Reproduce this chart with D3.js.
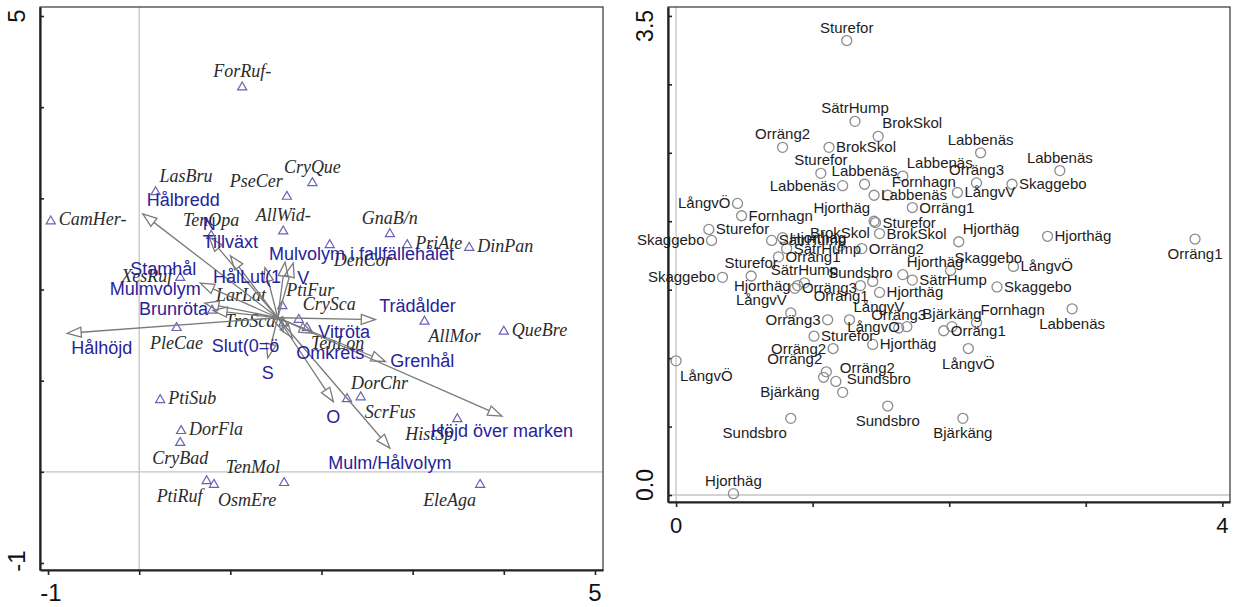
<!DOCTYPE html>
<html>
<head>
<meta charset="utf-8">
<script src="https://d3js.org/d3.v7.min.js"></script>
<style>
  body { margin: 0; background: #fff; }
  svg { display: block; }
</style>
</head>
<body>
<svg id="chart" width="1238" height="607"></svg>
<script>
'use strict';

/* Values */

// left panel - species scores (triangles)
var speciesNames = ['ForRuf-', 'LasBru', 'PseCer', 'CryQue', 'CamHer-', 'AllWid-', 'TenOpa', 'GnaB/n', 'PriAte', 'DinPan',
  'DenCor', 'PtiFur', 'XesRuf', 'LarLat', 'TroSca', 'CrySca', 'TenLon', 'PleCae', 'PtiSub', 'DorFla',
  'CryBad', 'PtiRuf', 'OsmEre', 'TenMol', 'EleAga', 'QueBre', 'AllMor', 'DorChr', 'ScrFus', 'HistSp'];
var speciesX = [1.13, 0.18, 1.62, 1.90, -0.97, 1.58, 0.79, 2.75, 2.94, 3.62,
  2.09, 1.57, 0.45, 0.80, 1.58, 1.75, 1.84, 0.41, 0.23, 0.46,
  0.45, 0.74, 0.82, 1.59, 3.74, 4.00, 3.13, 2.28, 2.43, 3.49];
var speciesY = [4.23, 3.08, 3.03, 3.18, 2.76, 2.65, 2.60, 2.62, 2.50, 2.47,
  2.50, 1.83, 2.14, 1.78, 1.64, 1.68, 1.59, 1.59, 0.80, 0.46,
  0.33, -0.09, -0.13, -0.11, -0.13, 1.55, 1.66, 0.81, 0.83, 0.59];
var speciesLabelPos = ['n', 'ne', 'nw', 'n', 'e', 'n', 'n', 'n', 'e', 'e',
  'se', 'ne', 'w', 'ne', 'w', 'ne', 'se', 's', 'e', 'e',
  's', 'sw', 'se', 'nw', 'sw', 'e', 'se', 'ne', 'se', 'sw'];

// left panel - environmental arrows
var arrowOrigin = [1.52, 1.69];
var envNames = ['Hålhöjd', 'Hålbredd', 'Stamhål', 'Mulmvolym', 'Brunröta', 'N', 'Tillväxt', 'HålLut(1', 'V',
  'Mulvolym i fallfällehålet', 'Slut(0=ö', 'S', 'Omkrets', 'O', 'Mulm/Hålvolym', 'Höjd över marken',
  'Grenhål', 'Vitröta', 'Trädålder'];
var envX = [-0.79, 0.04, 0.67, 0.72, 0.81, 0.77, 1.00, 1.60, 1.69, 1.38, 1.58, 1.41, 1.68, 2.13, 2.75, 3.98, 2.70, 1.91, 2.59];
var envY = [1.52, 2.83, 2.07, 1.85, 1.77, 2.57, 2.37, 2.30, 2.29, 2.24, 1.54, 1.25, 1.47, 0.77, 0.26, 0.61, 1.21, 1.52, 1.67];
var envLabelPos = ['se', 'ne', 'nw', 'nw', 'w', 'n', 'n', 'sw', 'se', 'ne', 'sw', 's', 'se', 's', 's', 's', 'e', 'e', 'ne'];

// right panel - site scores (circles)
var siteNames = ['Sturefor', 'SätrHump', 'BrokSkol', 'Orräng2', 'BrokSkol', 'Labbenäs', 'Sturefor', 'Labbenäs', 'Labbenäs', 'Labbenäs',
  'Labbenäs', 'Fornhagn', 'Labbenäs', 'Orräng3', 'Skaggebo', 'LångvV', 'Orräng1', 'LångvÖ', 'Fornhagn', 'Hjorthäg',
  'Sturefor', 'Hjorthäg', 'Skaggebo', 'BrokSkol', 'Hjorthäg', 'Orräng1', 'Sturefor', 'Skaggebo', 'BrokSkol', 'Orräng2',
  'SätrHump', 'Hjorthäg', 'SätrHump', 'Orräng1', 'Sturefor', 'SätrHump', 'Sundsbro', 'Hjorthäg', 'Orräng3', 'Orräng1',
  'Hjorthäg', 'LångvV', 'LångvV', 'Orräng3', 'LångvÖ', 'SätrHump', 'Hjorthäg', 'Skaggebo', 'LångvÖ', 'Fornhagn',
  'Bjärkäng', 'Orräng1', 'Orräng3', 'Labbenäs', 'Sturefor', 'Hjorthäg', 'LångvÖ', 'Orräng2', 'Orräng2', 'Orräng2',
  'Sundsbro', 'Bjärkäng', 'Sundsbro', 'Sundsbro', 'Bjärkäng', 'Hjorthäg', 'LångvÖ', 'Skaggebo'];
var siteX = [1.25, 1.31, 1.48, 0.78, 1.12, 2.23, 1.06, 1.38, 2.81, 1.22,
  1.66, 1.55, 1.45, 2.20, 2.46, 2.06, 1.73, 0.45, 0.48, 1.45,
  1.46, 2.07, 2.01, 1.49, 2.72, 3.80, 0.24, 0.26, 1.20, 1.36,
  0.70, 0.78, 0.81, 0.75, 0.55, 0.94, 1.35, 0.89, 0.87, 1.44,
  1.49, 0.84, 1.27, 1.11, 1.69, 1.73, 1.66, 2.35, 2.47, 2.20,
  2.02, 1.96, 1.63, 2.90, 1.01, 1.44, 2.14, 1.15, 1.17, 1.10,
  1.22, 1.08, 1.55, 0.84, 2.10, 0.42, 0.00, 0.34];
var siteY = [3.32, 2.73, 2.62, 2.54, 2.54, 2.50, 2.35, 2.27, 2.37, 2.26,
  2.33, 2.19, 2.19, 2.28, 2.27, 2.21, 2.10, 2.13, 2.04, 2.00,
  1.99, 1.85, 1.64, 1.91, 1.89, 1.87, 1.94, 1.86, 1.82, 1.80,
  1.86, 1.88, 1.80, 1.74, 1.60, 1.55, 1.53, 1.53, 1.51, 1.56,
  1.48, 1.33, 1.28, 1.28, 1.23, 1.57, 1.61, 1.52, 1.67, 1.26,
  1.23, 1.20, 1.22, 1.36, 1.16, 1.10, 1.07, 1.07, 0.83, 0.90,
  0.75, 0.86, 0.65, 0.56, 0.56, 0.01, 0.98, 1.59];
var siteLabelPos = ['n', 'n', 'ne', 'n', 'e', 'n', 'n', 'n', 'n', 'w',
  'ne', 'ne', 'e', 'n', 'e', 'e', 'e', 'w', 'e', 'nw',
  'e', 'ne', 'ne', 'e', 'e', 's', 'e', 'w', 'n', 'e',
  'e', 'e', 'e', 'e', 'n', 'n', 'n', 'w', 'e', 'sw',
  'e', 'nw', 'ne', 'w', 'w', 'e', 'ne', 'e', 'e', 'ne',
  'n', 'e', 'n', 's', 'e', 'e', 's', 'w', 'ne', 'nw',
  'ne', 'sw', 's', 'sw', 's', 'n', 'se', 'w'];

// axes
var leftTicks = [-1, 0, 1, 2, 3, 4, 5];
var leftTickLabels = [-1, 5];
var rightXTicks = [0, 1, 2, 3, 4];
var rightXTickLabels = [0, 4];
var rightYTicks = [0, 0.5, 1, 1.5, 2, 2.5, 3, 3.5];
var rightYTickLabels = [0, 3.5];

var SANS = '"Liberation Sans", Arial, sans-serif';
var SERIF = '"Liberation Serif", "Times New Roman", serif';

var svg = d3.select('#chart');

// label placement around a point: dx, baseline dy, anchor
function offsets(h, hb, sb) {
  return {
    n:  [0, hb, 'middle'], s: [0, sb, 'middle'],
    e:  [h, 5, 'start'],   w: [-h, 5, 'end'],
    ne: [4, hb, 'start'],  nw: [-4, hb, 'end'],
    se: [4, sb, 'start'],  sw: [-4, sb, 'end']
  };
}

function frame(g, x, y) {
  var x0 = x.range()[0], x1 = x.range()[1], y0 = y.range()[0], y1 = y.range()[1];
  // light reference lines through zero
  g.append('line').attr('x1', x(0)).attr('x2', x(0)).attr('y1', y1).attr('y2', y0)
    .attr('stroke', '#c4c4c4').attr('stroke-width', 1.3);
  g.append('line').attr('x1', x0).attr('x2', x1).attr('y1', y(0)).attr('y2', y(0))
    .attr('stroke', '#c4c4c4').attr('stroke-width', 1.3);
  g.append('rect').attr('x', x0).attr('y', y1).attr('width', x1 - x0).attr('height', y0 - y1)
    .attr('fill', 'none').attr('stroke', '#333').attr('stroke-width', 1.2);
}

function axes(g, x, y, xt, yt) {
  var ax = g.append('g').attr('transform', 'translate(0,' + y.range()[0] + ')')
    .call(d3.axisBottom(x).tickValues(xt).tickSize(5).tickSizeOuter(0).tickFormat(''));
  var ay = g.append('g').attr('transform', 'translate(' + x.range()[0] + ',0)')
    .call(d3.axisLeft(y).tickValues(yt).tickSize(-4).tickSizeOuter(0).tickFormat(''));
  [ax, ay].forEach(function(a) {
    a.select('.domain').attr('stroke', '#222').attr('stroke-width', 2.2);
    a.selectAll('.tick line').attr('stroke', '#222').attr('stroke-width', 1.6);
  });
}

/* ---------- left panel: species + environment biplot ---------- */

var xL = d3.scaleLinear().domain([-1.088, 5.088]).range([40, 603]);
var yL = d3.scaleLinear().domain([-1.077, 5.099]).range([570, 7]);
var gL = svg.append('g');

frame(gL, xL, yL);
axes(gL, xL, yL, leftTicks, leftTicks);

gL.selectAll('text.xlab').data(leftTickLabels).enter().append('text')
  .attr('x', function(d) { return xL(d) + (d < 0 ? 3 : 0); }).attr('y', 601)
  .attr('text-anchor', 'middle').attr('font-family', SANS).attr('font-size', 24).attr('fill', '#111')
  .text(function(d) { return d; });
gL.selectAll('text.ylab').data(leftTickLabels).enter().append('text')
  .attr('transform', function(d) { return 'translate(25,' + (yL(d) - (d < 0 ? 2 : 0)) + ') rotate(-90)'; })
  .attr('text-anchor', 'middle').attr('font-family', SANS).attr('font-size', 24).attr('fill', '#111')
  .text(function(d) { return d; });

var spOff = offsets(8, -9, 22);
var spIdx = d3.range(speciesNames.length);

gL.selectAll('path.sp').data(spIdx).enter().append('path')
  .attr('d', d3.symbol().type(d3.symbolTriangle).size(36))
  .attr('transform', function(i) { return 'translate(' + xL(speciesX[i]) + ',' + (yL(speciesY[i]) + 1) + ')'; })
  .attr('fill', 'none').attr('stroke', '#6a62b6').attr('stroke-width', 1.2);

gL.selectAll('text.sp').data(spIdx).enter().append('text')
  .attr('x', function(i) { return xL(speciesX[i]) + spOff[speciesLabelPos[i]][0]; })
  .attr('y', function(i) { return yL(speciesY[i]) + spOff[speciesLabelPos[i]][1]; })
  .attr('text-anchor', function(i) { return spOff[speciesLabelPos[i]][2]; })
  .attr('font-family', SERIF).attr('font-style', 'italic').attr('font-size', 18).attr('fill', '#2b2b2b')
  .text(function(i) { return speciesNames[i]; });

// arrows from the common origin, open heads
var ox = xL(arrowOrigin[0]), oy = yL(arrowOrigin[1]);
var headLen = 14, headHalf = 5;
var envIdx = d3.range(envNames.length);

envIdx.forEach(function(i) {
  var tx = xL(envX[i]), ty = yL(envY[i]);
  var dx = tx - ox, dy = ty - oy, len = Math.sqrt(dx * dx + dy * dy);
  var ux = dx / len, uy = dy / len;
  var bx = tx - ux * headLen, by = ty - uy * headLen;
  gL.append('line').attr('x1', ox).attr('y1', oy).attr('x2', bx).attr('y2', by)
    .attr('stroke', '#7a7a7a').attr('stroke-width', 1.3);
  gL.append('path')
    .attr('d', 'M' + tx + ',' + ty +
      'L' + (bx - uy * headHalf) + ',' + (by + ux * headHalf) +
      'L' + (bx + uy * headHalf) + ',' + (by - ux * headHalf) + 'Z')
    .attr('fill', 'none').attr('stroke', '#7a7a7a').attr('stroke-width', 1.3);
});

var envOff = offsets(5, -8, 21);

gL.selectAll('text.env').data(envIdx).enter().append('text')
  .attr('x', function(i) { return xL(envX[i]) + envOff[envLabelPos[i]][0]; })
  .attr('y', function(i) { return yL(envY[i]) + envOff[envLabelPos[i]][1]; })
  .attr('text-anchor', function(i) { return envOff[envLabelPos[i]][2]; })
  .attr('font-family', SANS).attr('font-size', 18).attr('fill', '#27239a')
  .text(function(i) { return envNames[i]; });

/* ---------- right panel: site scores ---------- */

var xR = d3.scaleLinear().domain([-0.059, 4.056]).range([668, 1230]);
var yR = d3.scaleLinear().domain([-0.051, 3.565]).range([502, 7]);
var gR = svg.append('g');

frame(gR, xR, yR);
axes(gR, xR, yR, rightXTicks, rightYTicks);

gR.selectAll('text.xlab').data(rightXTickLabels).enter().append('text')
  .attr('x', function(d) { return xR(d); }).attr('y', 533)
  .attr('text-anchor', 'middle').attr('font-family', SANS).attr('font-size', 22).attr('fill', '#111')
  .text(function(d) { return d; });
gR.selectAll('text.ylab').data(rightYTickLabels).enter().append('text')
  .attr('transform', function(d) { return 'translate(653,' + (yR(d) + (d === 0 ? -10 : 10)) + ') rotate(-90)'; })
  .attr('text-anchor', 'middle').attr('font-family', SANS).attr('font-size', 23).attr('fill', '#111')
  .text(function(d) { return d3.format('.1f')(d); });

var stOff = offsets(7, -8, 20);
var stIdx = d3.range(siteNames.length);

gR.selectAll('circle.site').data(stIdx).enter().append('circle')
  .attr('cx', function(i) { return xR(siteX[i]); })
  .attr('cy', function(i) { return yR(siteY[i]); })
  .attr('r', 5).attr('fill', 'none').attr('stroke', '#8c8c8c').attr('stroke-width', 1.3);

gR.selectAll('text.site').data(stIdx).enter().append('text')
  .attr('x', function(i) { return xR(siteX[i]) + stOff[siteLabelPos[i]][0]; })
  .attr('y', function(i) { return yR(siteY[i]) + stOff[siteLabelPos[i]][1]; })
  .attr('text-anchor', function(i) { return stOff[siteLabelPos[i]][2]; })
  .attr('font-family', SANS).attr('font-size', 15).attr('fill', '#1c1c1c')
  .text(function(i) { return siteNames[i]; });
</script>
</body>
</html>
